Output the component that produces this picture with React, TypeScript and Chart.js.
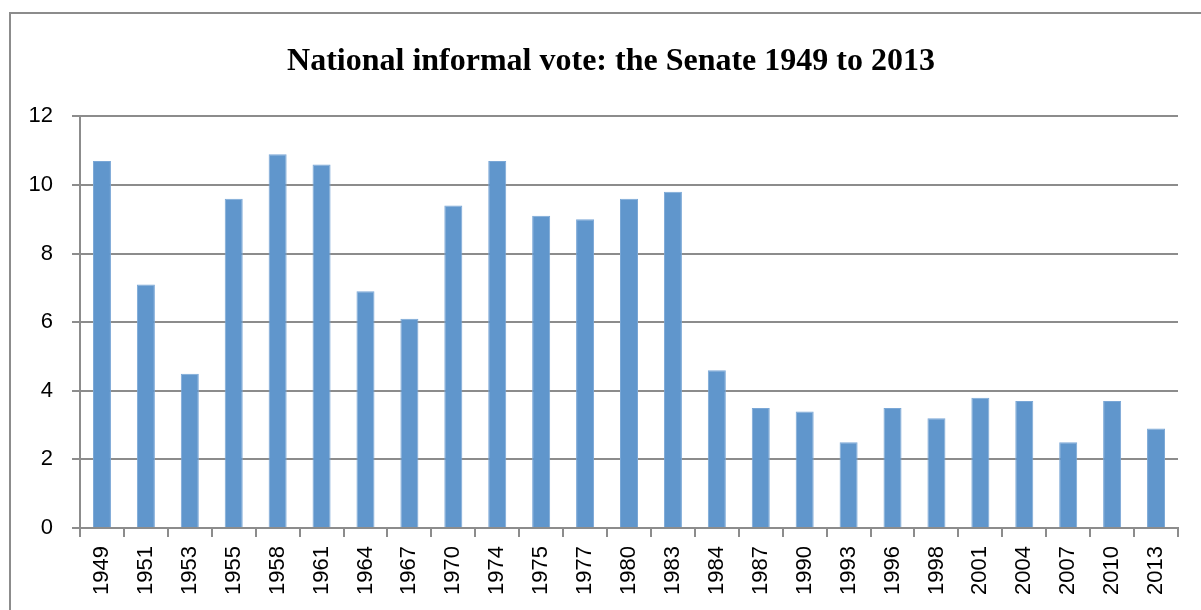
import React, { useEffect, useRef } from "react";
import { Chart, registerables } from "chart.js";

Chart.register(...registerables);

const categories = ["1949","1951","1953","1955","1958","1961","1964","1967","1970","1974","1975","1977","1980","1983","1984","1987","1990","1993","1996","1998","2001","2004","2007","2010","2013"];
const informalVote = [10.7,7.1,4.5,9.6,10.9,10.6,6.9,6.1,9.4,10.7,9.1,9.0,9.6,9.8,4.6,3.5,3.4,2.5,3.5,3.2,3.8,3.7,2.5,3.7,2.9];
const yTicks = [0, 2, 4, 6, 8, 10, 12];
const titleText = "National informal vote: the Senate 1949 to 2013";

const frame = {
  id: "frame",
  afterLayout(chart: any) {
    const tb = chart.titleBlock;
    if (tb) {
      tb.left += 22;
      tb.right += 22;
    }
  },
  beforeDraw(chart: any) {
    const ctx = chart.ctx;
    ctx.save();
    ctx.fillStyle = "#ffffff";
    ctx.fillRect(0, 0, chart.width, chart.height);
    ctx.strokeStyle = "#8c8c8c";
    ctx.lineWidth = 2;
    ctx.strokeRect(10, 13, chart.width + 40, chart.height + 40);
    ctx.restore();
  },
};

export default function App() {
  const ref = useRef<HTMLCanvasElement>(null);
  useEffect(() => {
    document.body.style.margin = "0";
    const chart = new Chart(ref.current!, {
      type: "bar",
      data: {
        labels: categories,
        datasets: [
          {
            data: informalVote,
            backgroundColor: "#6096cc",
            borderColor: "#7aa7d6",
            borderWidth: 1,
            categoryPercentage: 1,
            barPercentage: 0.41,
          },
        ],
      },
      plugins: [frame],
      options: {
        animation: false,
        responsive: false,
        layout: { padding: { left: 0, right: 23, top: 0, bottom: 0 } },
        plugins: {
          legend: { display: false },
          tooltip: { enabled: false },
          title: {
            display: true,
            text: titleText,
            color: "#000000",
            font: { family: "'Liberation Serif', 'Times New Roman', serif", size: 32, weight: "bold" },
            padding: { top: 43, bottom: 35 },
          },
        },
        scales: {
          x: {
            grid: {
              offset: true,
              drawOnChartArea: false,
              drawTicks: true,
              tickLength: 9,
              color: "#8c8c8c",
              lineWidth: 2,
            },
            border: { color: "#8c8c8c", width: 2 },
            ticks: {
              color: "#000000",
              font: { family: "'Liberation Sans', Arial, sans-serif", size: 22 },
              maxRotation: 90,
              minRotation: 90,
              padding: 9,
              autoSkip: false,
            },
            afterFit(scale: any) {
              scale.height = 82;
            },
          },
          y: {
            min: 0,
            max: 12,
            afterBuildTicks(scale: any) {
              scale.ticks = yTicks.map((v) => ({ value: v }));
            },
            grid: {
              color: "#8c8c8c",
              lineWidth: 2,
              drawTicks: true,
              tickLength: 8,
            },
            border: { color: "#8c8c8c", width: 2 },
            ticks: {
              color: "#000000",
              font: { family: "'Liberation Sans', Arial, sans-serif", size: 22 },
              padding: 19,
            },
            afterFit(scale: any) {
              scale.width = 80;
              scale.paddingTop = 0;
              scale.paddingBottom = 0;
            },
          },
        },
      },
    });
    return () => chart.destroy();
  }, []);
  return <canvas ref={ref} width={1201} height={610} style={{ display: "block" }} />;
}
